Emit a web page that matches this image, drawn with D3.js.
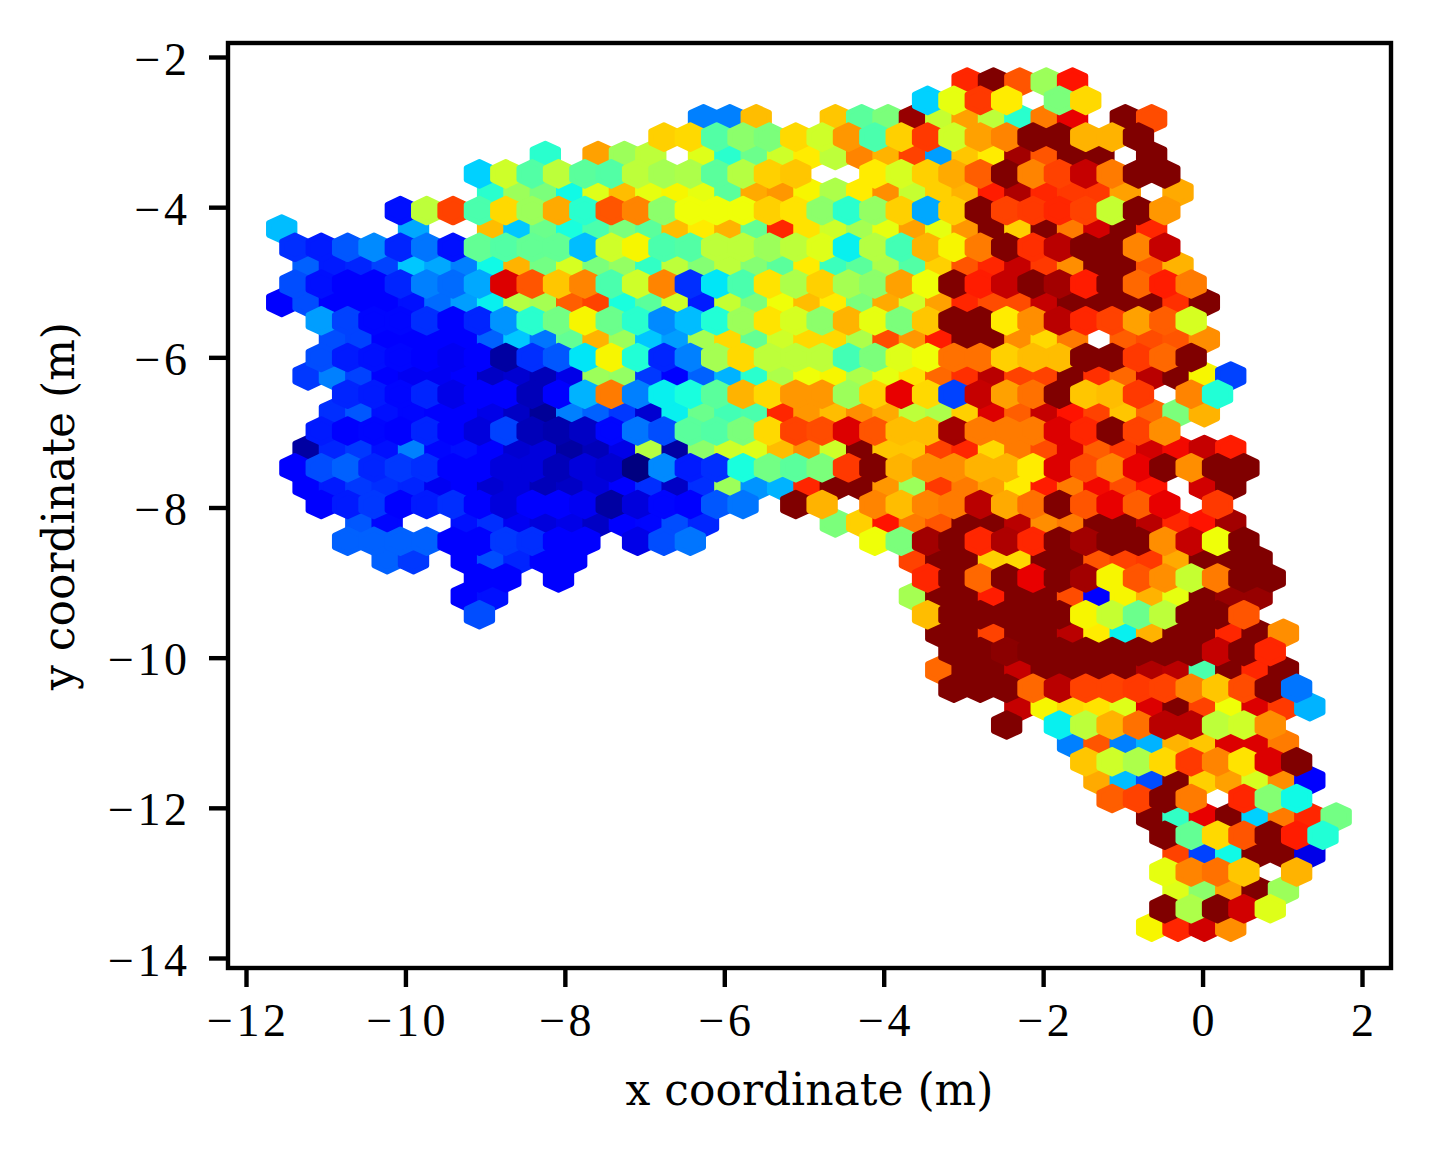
<!DOCTYPE html>
<html><head><meta charset="utf-8">
<style>html,body{margin:0;padding:0;background:#fff}svg{display:block}text{fill:#000}</style>
<script src="https://cdn.jsdelivr.net/npm/d3@7"></script></head><body><svg id="c" width="1432" height="1155"></svg>
<script>
const xTicks=[-12,-10,-8,-6,-4,-2,0,2];
const yTicks=[-2,-4,-6,-8,-10,-12,-14];
const xLabel="x coordinate (m)", yLabel="y coordinate (m)";
// hexbin lattice in data units
const hexX0=-11.552, hexDx=0.3307, hexY0=-2.333, hexDy=0.2447;
// first occupied column per row, then percent of the colour range per bin (null = empty bin)
const rowStart=[26,24,16,14,10,7,8,4,0,0,1,0,0,1,2,1,1,2,2,1,1,0,1,1,3,2,4,7,7,7,25,25,25,25,28,27,30,30,31,31,33,33,34,33,34,33,33];
const row00=[87,100,82,54,89];
const row01=[33,63,85,66,null,50,68];
const row02=[25,25,71,null,null,70,46,50,98,59,74,58,40,78,91,null,100,83];
const row03=[69,68,45,52,50,68,60,75,44,69,85,60,74,77,100,100,72,72,100];
const row04=[40,null,74,54,58,null,62,40,48,60,66,58,77,72,84,28,70,66,97,82,100,100,null,100];
const row05=[33,60,45,58,46,45,58,55,56,46,57,69,70,null,null,66,61,69,73,81,100,77,84,94,78,100,100];
const row06=[40,54,50,37,62,71,63,65,63,46,73,75,65,56,66,76,59,69,72,88,96,87,85,85,74,null,73];
const row07=[14,58,84,44,68,54,73,40,82,77,52,64,64,64,69,67,52,40,53,69,29,69,100,84,85,87,84,59,100,75];
const row08=[31,null,null,null,null,29,null,null,71,32,48,38,44,50,46,71,66,72,47,87,67,60,55,63,74,63,75,100,69,100,78,93,100,87];
const row09=[17,15,21,26,16,24,14,47,45,47,47,31,60,65,44,45,58,58,54,58,62,36,57,43,72,65,78,100,86,95,100,100,77,94];
const row10=[22,15,16,19,32,29,25,37,72,49,61,50,53,41,58,51,58,51,46,66,42,46,56,45,69,82,87,94,85,76,100,100,82,72];
const row11=[20,14,12,12,16,25,23,29,92,82,70,77,44,60,77,17,35,44,67,56,69,55,52,74,64,100,88,94,100,97,88,100,80,88,78];
const row12=[12,20,11,11,11,14,23,28,36,57,55,81,84,38,46,60,15,59,50,64,71,66,50,73,60,74,87,83,83,94,100,100,100,100,86,100];
const row13=[28,19,13,13,17,11,16,27,40,49,65,48,40,26,31,39,54,67,61,52,72,63,50,70,100,100,66,76,95,87,84,74,81,61];
const row14=[20,19,12,11,11,11,22,32,24,47,72,54,32,28,55,68,47,60,68,68,56,83,75,88,100,100,76,68,78,null,81,83,82,76];
const row15=[20,15,14,13,11,10,11,3,17,21,35,65,39,16,25,55,68,58,58,58,43,50,62,64,79,79,69,71,71,100,100,85,80,100];
const row16=[18,25,19,11,10,10,11,6,7,5,9,54,53,18,11,22,30,40,56,64,65,56,63,67,80,86,95,84,84,100,86,80,95,100,65,19];
const row17=[16,15,13,16,9,11,11,5,11,30,78,25,36,38,46,72,68,75,75,54,69,91,68,19,94,74,79,100,70,71,85,null,77,39];
const row18=[17,21,14,13,11,11,9,6,2,25,22,18,7,36,48,43,44,87,75,71,76,73,58,56,69,92,81,94,89,84,70,80,50,72];
const row19=[15,12,13,11,16,12,8,19,5,4,6,13,24,20,46,45,50,68,84,83,92,82,71,71,97,78,78,78,92,87,100,84,76];
const row20=[3,16,18,14,25,13,14,12,7,8,3,5,9,57,3,52,60,62,71,76,60,100,70,70,84,87,68,78,83,92,81,85,93,90,94,88];
const row21=[11,20,22,16,18,17,11,11,8,8,5,8,7,0,26,15,17,38,49,46,50,85,100,72,76,76,72,72,66,92,83,77,91,100,76,100,100];
const row22=[11,15,18,17,16,10,11,7,8,5,6,8,11,17,6,17,54,27,30,87,100,100,75,54,85,78,74,66,88,78,90,83,89,null,93,100];
const row23=[11,15,18,11,15,17,12,8,11,11,10,3,8,13,12,21,24,null,100,72,null,77,71,77,78,95,73,79,100,82,91,81,91,null,85];
const row24=[21,13,null,null,14,17,10,8,9,6,11,13,20,16,null,null,null,null,50,69,89,78,82,100,100,95,76,78,100,100,95,87,89,97];
const row25=[22,22,22,22,11,12,18,17,11,11,null,9,20,24,null,null,null,null,null,null,64,50,97,100,87,96,87,100,97,100,100,76,94,64,100];
const row26=[22,18,null,12,20,16,11,11,null,null,null,null,null,null,null,null,null,null,null,null,84,100,100,69,68,100,100,82,84,85,73,100,100,100];
const row27=[12,11,null,11,null,null,null,null,null,null,null,null,null,null,null,null,null,87,100,80,100,91,100,97,65,82,76,59,78,100,100];
const row28=[11,14,null,null,null,null,null,null,null,null,null,null,null,null,null,null,null,55,100,100,88,100,100,83,11,65,72,63,100,98,98];
const row29=[20,null,null,null,null,null,null,null,null,null,null,null,null,null,null,null,null,71,100,100,100,100,100,65,59,48,58,100,100,82];
const row30=[100,100,84,100,100,95,66,36,72,100,100,87,100,76];
const row31=[100,100,99,100,100,100,100,100,100,100,94,100,87];
const row32=[80,100,100,94,100,100,100,100,96,95,44,100,87,100];
const row33=[100,100,100,80,95,84,84,85,84,77,70,83,100,24];
const row34=[94,65,68,67,62,92,100,84,64,92,85,30];
const row35=[100,null,36,58,72,79,95,95,58,60,76];
const row36=[25,82,25,30,72,70,92,92,78];
const row37=[70,60,56,68,85,77,67,92,100];
const row38=[73,31,20,100,69,74,61,76,11];
const row39=[81,84,100,78,null,87,51,37];
const row40=[100,41,91,100,33,78,87,49];
const row41=[100,47,68,82,100,88,39];
const row42=[84,19,37,100,100,9];
const row43=[63,77,79,70,null,72];
const row44=[62,52,74,100,54];
const row45=[100,56,100,93,62];
const row46=[65,87,93,76];
const rows=[row00,row01,row02,row03,row04,row05,row06,row07,row08,row09,row10,row11,row12,row13,row14,row15,row16,row17,row18,row19,row20,row21,row22,row23,row24,row25,row26,row27,row28,row29,row30,row31,row32,row33,row34,row35,row36,row37,row38,row39,row40,row41,row42,row43,row44,row45,row46];

const x=d3.scaleLinear().domain([-12,2]).range([246,1362]);
const y=d3.scaleLinear().domain([-2,-14]).range([57,958]);
const jetR=d3.scaleLinear().domain([0,35,66,89,100]).range([0,0,1,1,.5]).clamp(true);
const jetG=d3.scaleLinear().domain([0,12.5,37.5,64,91,100]).range([0,0,1,1,0,0]).clamp(true);
const jetB=d3.scaleLinear().domain([0,11,34,65,100]).range([.5,1,1,0,0]).clamp(true);
const jet=v=>d3.rgb(jetR(v)*255,jetG(v)*255,jetB(v)*255).formatHex();

const bins=[];
rows.forEach((r,j)=>r.forEach((v,i)=>{
  if(v===null)return;
  const k=rowStart[j]+i;
  bins.push({lat:j%2,cx:hexX0+hexDx*(k+(j%2?.5:0)),cy:hexY0-hexDy*j,v});
}));
bins.sort((a,b)=>a.lat-b.lat);

const svg=d3.select("#c");
const hexPath=d=>{
  const w=hexDx/2,h=hexDy*2/3;
  const pts=[[w,-h/2],[w,h/2],[0,h],[-w,h/2],[-w,-h/2],[0,-h]];
  return "M"+pts.map(p=>x(d.cx+p[0]).toFixed(2)+","+y(d.cy+p[1]).toFixed(2)).join("L")+"Z";
};
svg.append("g").selectAll("path").data(bins).join("path")
  .attr("d",hexPath).attr("fill",d=>jet(d.v)).attr("stroke",d=>jet(d.v))
  .attr("stroke-width",5).attr("stroke-linejoin","round");

const L=228,R=1391,T=43,B=968;
svg.append("rect").attr("x",L).attr("y",T).attr("width",R-L).attr("height",B-T)
  .attr("fill","none").attr("stroke","#000").attr("stroke-width",4.4);
const gx=svg.append("g").attr("transform",`translate(0,${B})`)
  .call(d3.axisBottom(x).tickValues(xTicks).tickSize(19).tickPadding(16));
const gy=svg.append("g").attr("transform",`translate(${L},0)`)
  .call(d3.axisLeft(y).tickValues(yTicks).tickSize(19).tickPadding(18.5));
[gx,gy].forEach(g=>{
  g.select(".domain").remove();
  g.selectAll("line").attr("stroke","#000").attr("stroke-width",4.4);
  g.selectAll("text").style("font-family","'Liberation Serif',serif").style("font-size","46px").style("letter-spacing","3.5px");
});
gx.selectAll("text").attr("dx",1.75);
gy.selectAll("text").attr("dy","0.37em");
const labelFont="'DejaVu Serif',serif";
svg.append("text").attr("x",809.5).attr("y",1105).attr("text-anchor","middle").style("font-family",labelFont).style("font-size","44px").text(xLabel);
svg.append("text").attr("transform","translate(74,506) rotate(-90)").attr("text-anchor","middle").style("font-family",labelFont).style("font-size","44px").text(yLabel);
</script></body></html>
